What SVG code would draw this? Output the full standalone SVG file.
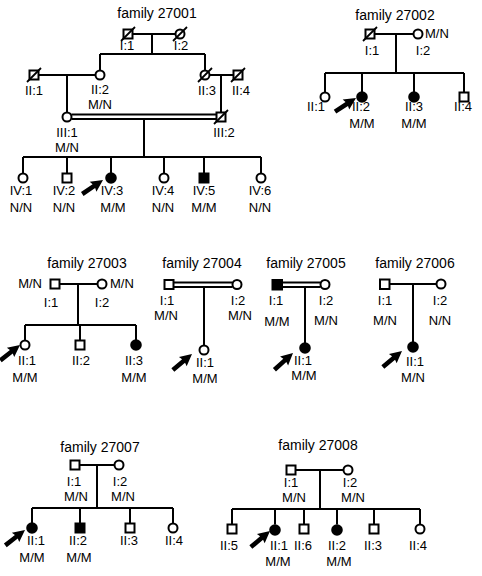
<svg xmlns="http://www.w3.org/2000/svg" width="482" height="576" viewBox="0 0 482 576">
<style>
.ln{stroke:#000;stroke-width:2;fill:none}
.o{fill:#fff;stroke:#000;stroke-width:2}
.f{fill:#000;stroke:#000;stroke-width:2}
.d{stroke:#000;stroke-width:1.8}
text{font-family:"Liberation Sans",Arial,sans-serif;font-size:13px;text-anchor:middle;fill:#000}
.ti{font-size:14px}
.l{text-anchor:start}
.r{text-anchor:end}
</style>
<defs>
<path id="arr" d="M0,-2.3 L14,-2.3 L13,-6 L25,0 L13,6 L14,2.3 L0,2.3 Z" fill="#000"/>
</defs>
<rect width="482" height="576" fill="#fff"/>

<g id="connectors">
<!-- 27001 -->
<path class="ln" d="M133,34H175.5M152,34V54M100,54H205M100,54V70.5M205,54V70.5"/>
<path class="ln" d="M38.5,75H95.5M67,75V112.5M209.5,75H233.5M221,75V112.5"/>
<path class="ln" d="M71.5,114.5H216.5M71.5,119H216.5M144,119V157M23,157H261M23,157V173.5M67,157V173.5M111,157V173.5M164,157V173.5M204,157V173.5M261,157V173.5"/>
<!-- 27002 -->
<path class="ln" d="M374.5,34H413.5M396,34V73M325,73H464M325,73V92.5M362,73V92.5M414,73V92.5M464,73V92.5"/>
<!-- 27003 -->
<path class="ln" d="M59.5,284H97.5M78,284V325M25,325H136M25,325V340.5M80,325V340.5M136,325V340.5"/>
<!-- 27004 -->
<path class="ln" d="M173.5,282.5H232.5M173.5,287H232.5M204,287V345.5"/>
<!-- 27005 -->
<path class="ln" d="M282.5,282.5H320.5M282.5,287H320.5M305,287V343.5"/>
<!-- 27006 -->
<path class="ln" d="M389.5,284H436.5M413,284V342.5"/>
<!-- 27007 -->
<path class="ln" d="M79.5,465H114.5M97,465V508M32,508H173M32,508V523.5M80,508V523.5M130,508V523.5M173,508V523.5"/>
<!-- 27008 -->
<path class="ln" d="M295.5,470H343.5M320,470V509M232,509H420M232,509V524.5M275,509V524.5M304,509V524.5M337,509V524.5M374,509V524.5M420,509V524.5"/>
</g>

<!-- family 27001 -->
<text class="ti" x="157" y="18">family 27001</text>
<g id="f1-I1"><rect class="o" x="123.5" y="29.5" width="9" height="9"/><line class="d" x1="121" y1="41" x2="135" y2="27"/><text x="127" y="50">I:1</text></g>
<g id="f1-I2"><circle class="o" cx="180" cy="34" r="4.5"/><line class="d" x1="173" y1="41" x2="187" y2="27"/><text x="181" y="50">I:2</text></g>
<g id="f1-II1"><rect class="o" x="29.5" y="70.5" width="9" height="9"/><line class="d" x1="27" y1="82" x2="41" y2="68"/><text x="34" y="95">II:1</text></g>
<g id="f1-II2"><circle class="o" cx="100" cy="75" r="4.5"/><text x="100" y="94">II:2</text><text x="100" y="109">M/N</text></g>
<g id="f1-II3"><circle class="o" cx="205" cy="75" r="4.5"/><line class="d" x1="198" y1="82" x2="212" y2="68"/><text x="207" y="95">II:3</text></g>
<g id="f1-II4"><rect class="o" x="233.5" y="70.5" width="9" height="9"/><line class="d" x1="231" y1="82" x2="245" y2="68"/><text x="241" y="95">II:4</text></g>
<g id="f1-III1"><circle class="o" cx="67" cy="117" r="4.5"/><text x="67" y="137">III:1</text><text x="67" y="152">M/N</text></g>
<g id="f1-III2"><rect class="o" x="216.5" y="112.5" width="9" height="9"/><line class="d" x1="214" y1="124" x2="228" y2="110"/><text x="224" y="137">III:2</text></g>
<g id="f1-IV1"><circle class="o" cx="23" cy="178" r="4.5"/><text x="21" y="195">IV:1</text><text x="21" y="212">N/N</text></g>
<g id="f1-IV2"><rect class="o" x="62.5" y="173.5" width="9" height="9"/><text x="64" y="195">IV:2</text><text x="64" y="212">N/N</text></g>
<g id="f1-IV3"><circle class="f" cx="111" cy="178" r="4.8"/><text x="112" y="195">IV:3</text><text x="113" y="212">M/M</text><use href="#arr" transform="translate(103,180) rotate(-34) translate(-25,0)"/></g>
<g id="f1-IV4"><circle class="o" cx="164" cy="178" r="4.5"/><text x="163" y="195">IV:4</text><text x="163" y="212">N/N</text></g>
<g id="f1-IV5"><rect class="f" x="199.5" y="173.5" width="9" height="9"/><text x="204" y="195">IV:5</text><text x="204" y="212">M/M</text></g>
<g id="f1-IV6"><circle class="o" cx="261" cy="178" r="4.5"/><text x="260" y="195">IV:6</text><text x="260" y="212">N/N</text></g>

<!-- family 27002 -->
<text class="ti" x="395" y="20">family 27002</text>
<g id="f2-I1"><rect class="o" x="365.5" y="29.5" width="9" height="9"/><line class="d" x1="363" y1="41" x2="377" y2="27"/><text x="372" y="55">I:1</text></g>
<g id="f2-I2"><circle class="o" cx="418" cy="34" r="4.5"/><text class="l" x="425" y="38">M/N</text><text x="423" y="55">I:2</text></g>
<g id="f2-II1"><circle class="o" cx="325" cy="97" r="4.5"/><text x="316" y="111">II:1</text></g>
<g id="f2-II2"><circle class="f" cx="362" cy="97" r="4.8"/><text x="361" y="111">II:2</text><text x="362" y="128">M/M</text><use href="#arr" transform="translate(356,98) rotate(-33) translate(-25,0)"/></g>
<g id="f2-II3"><circle class="f" cx="414" cy="97" r="4.8"/><text x="414" y="111">II:3</text><text x="414" y="128">M/M</text></g>
<g id="f2-II4"><rect class="o" x="459.5" y="92.5" width="9" height="9"/><text x="463" y="111">II:4</text></g>

<!-- family 27003 -->
<text class="ti" x="87" y="268">family 27003</text>
<g id="f3-I1"><rect class="o" x="50.5" y="279.5" width="9" height="9"/><text class="r" x="42" y="288">M/N</text><text x="51" y="307">I:1</text></g>
<g id="f3-I2"><circle class="o" cx="102" cy="284" r="4.5"/><text class="l" x="110" y="288">M/N</text><text x="102" y="307">I:2</text></g>
<g id="f3-II1"><circle class="o" cx="25" cy="345" r="4.5"/><text x="27" y="365">II:1</text><text x="25" y="382">M/M</text><use href="#arr" transform="translate(20,345) rotate(-38) translate(-25,0)"/></g>
<g id="f3-II2"><rect class="o" x="75.5" y="340.5" width="9" height="9"/><text x="81" y="365">II:2</text></g>
<g id="f3-II3"><circle class="f" cx="136" cy="345" r="4.8"/><text x="134" y="365">II:3</text><text x="134" y="382">M/M</text></g>

<!-- family 27004 -->
<text class="ti" x="202" y="268">family 27004</text>
<g id="f4-I1"><rect class="o" x="164.5" y="280" width="9" height="9"/><text x="167" y="305">I:1</text><text x="166" y="320">M/N</text></g>
<g id="f4-I2"><circle class="o" cx="237" cy="284.5" r="4.5"/><text x="238" y="305">I:2</text><text x="240" y="320">M/N</text></g>
<g id="f4-II1"><circle class="o" cx="204" cy="350" r="4.5"/><text x="205" y="367">II:1</text><text x="205" y="383">M/M</text><use href="#arr" transform="translate(192,354) rotate(-40) translate(-25,0)"/></g>

<!-- family 27005 -->
<text class="ti" x="306" y="268">family 27005</text>
<g id="f5-I1"><rect class="f" x="272.5" y="280" width="9.5" height="9.5"/><text x="276" y="305">I:1</text><text x="277" y="326">M/M</text></g>
<g id="f5-I2"><circle class="o" cx="325" cy="284.5" r="4.5"/><text x="326" y="305">I:2</text><text x="326" y="325">M/N</text></g>
<g id="f5-II1"><circle class="f" cx="305" cy="348" r="4.8"/><text x="303" y="365">II:1</text><text x="304" y="380">M/M</text><use href="#arr" transform="translate(293,353) rotate(-42) translate(-25,0)"/></g>

<!-- family 27006 -->
<text class="ti" x="415" y="268">family 27006</text>
<g id="f6-I1"><rect class="o" x="380" y="279.5" width="9.5" height="9.5"/><text x="385" y="305">I:1</text><text x="385" y="325">M/N</text></g>
<g id="f6-I2"><circle class="o" cx="441" cy="284" r="4.5"/><text x="440" y="305">I:2</text><text x="440" y="325">N/N</text></g>
<g id="f6-II1"><circle class="f" cx="413" cy="347" r="4.8"/><text x="415" y="366">II:1</text><text x="413" y="382">M/N</text><use href="#arr" transform="translate(402,351) rotate(-40) translate(-25,0)"/></g>

<!-- family 27007 -->
<text class="ti" x="100" y="452">family 27007</text>
<g id="f7-I1"><rect class="o" x="70.5" y="460.5" width="9" height="9"/><text x="74" y="486">I:1</text><text x="76" y="501">M/N</text></g>
<g id="f7-I2"><circle class="o" cx="119" cy="465" r="4.5"/><text x="120" y="486">I:2</text><text x="123" y="501">M/N</text></g>
<g id="f7-II1"><circle class="f" cx="32" cy="528" r="4.8"/><text x="36" y="545">II:1</text><text x="32" y="562">M/M</text><use href="#arr" transform="translate(25,530) rotate(-38) translate(-25,0)"/></g>
<g id="f7-II2"><rect class="f" x="75.5" y="523.5" width="9" height="9"/><text x="78" y="545">II:2</text><text x="79" y="562">M/M</text></g>
<g id="f7-II3"><rect class="o" x="125.5" y="523.5" width="9" height="9"/><text x="129" y="545">II:3</text></g>
<g id="f7-II4"><circle class="o" cx="173" cy="528" r="4.5"/><text x="174" y="545">II:4</text></g>

<!-- family 27008 -->
<text class="ti" x="318" y="450">family 27008</text>
<g id="f8-I1"><rect class="o" x="286.5" y="465.5" width="9" height="9"/><text x="291" y="487">I:1</text><text x="294" y="502">M/N</text></g>
<g id="f8-I2"><circle class="o" cx="348" cy="470" r="4.5"/><text x="350" y="487">I:2</text><text x="353" y="502">M/N</text></g>
<g id="f8-II5"><rect class="o" x="227.5" y="524.5" width="9" height="9"/><text x="229" y="550">II:5</text></g>
<g id="f8-II1"><circle class="f" cx="275" cy="530" r="4.8"/><text x="279" y="550">II:1</text><text x="278" y="566">M/M</text><use href="#arr" transform="translate(270,531) rotate(-40) translate(-25,0)"/></g>
<g id="f8-II6"><rect class="o" x="299.5" y="524.5" width="9" height="9"/><text x="303" y="550">II:6</text></g>
<g id="f8-II2"><circle class="f" cx="337" cy="530" r="4.8"/><text x="337" y="550">II:2</text><text x="339" y="566">M/M</text></g>
<g id="f8-II3"><rect class="o" x="369.5" y="524.5" width="9" height="9"/><text x="373" y="550">II:3</text></g>
<g id="f8-II4"><circle class="o" cx="420" cy="529" r="4.5"/><text x="418" y="550">II:4</text></g>
</svg>
